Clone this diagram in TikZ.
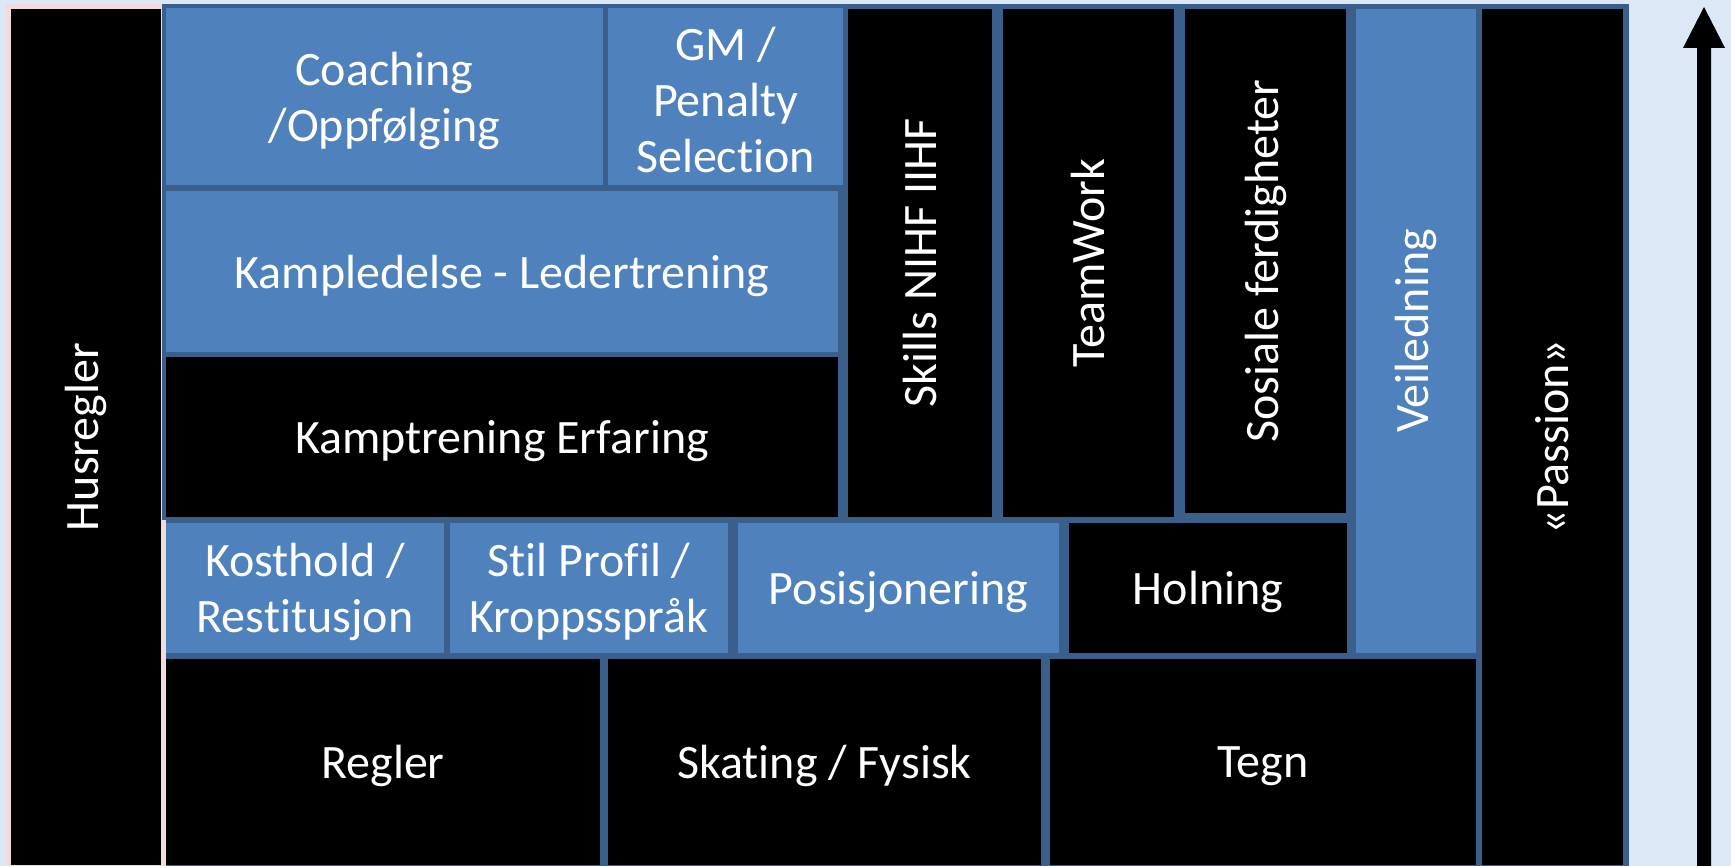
\documentclass[tikz,border=0pt]{standalone}
\usepackage{fontspec}
\setmainfont[Ligatures=NoCommon]{Carlito}
\usetikzlibrary{fit}
\definecolor{bgblue}{HTML}{DCE8F5}
\definecolor{boxblue}{HTML}{4F81BD}
\definecolor{gapblue}{HTML}{3A5F8B}
\definecolor{pinkedge}{HTML}{F2DCDB}
\tikzset{
  blk/.style={inner sep=0pt, outer sep=0pt},
  bluebox/.style={blk, fill=boxblue},
  blackbox/.style={blk, fill=black},
  basetext/.style={text=white, inner sep=0pt, align=center, font=\fontsize{24}{28}\selectfont},
  htext/.style={basetext, yshift=-2pt},
  vtext/.style={basetext, rotate=90}
}
\begin{document}
\begin{tikzpicture}[x=0.5pt,y=-0.5pt]
\useasboundingbox (0,0) rectangle (1731,866);
\fill[bgblue] (0,0) rectangle (1731,866);
% Husregler column
\fill[pinkedge] (6,4) rectangle (166,866);
\node[blackbox, fit={(11,9) (161,865)}] (hus) {};
\node[vtext] at (hus.center) {Husregler};
% dark blue frame behind the blocks
\fill[gapblue] (162,4) rectangle (1629,520);
\fill[gapblue] (166,520) rectangle (1629,866);
% upper blocks
\node[bluebox, fit={(166,8) (603,185)}] (coach) {};
\node[htext] at (coach.center) {Coaching\\/Oppfølging};
\node[bluebox, fit={(608,8) (843,185)}] (gm) {};
\node[htext] at (gm.center) {GM /\\Penalty\\Selection};
\node[bluebox, fit={(166,191) (838,352)}] (kled) {};
\node[htext] at (kled.center) {Kampledelse - Ledertrening};
\node[blackbox, fit={(166,357) (838,517)}] (ktren) {};
\node[htext] at (ktren.center) {Kamptrening Erfaring};
\node[blackbox, fit={(848,9) (992,517)}] (skills) {};
\node[vtext] at (skills.center) {Skills NIHF IIHF};
\node[blackbox, fit={(1003,9) (1174,517)}] (team) {};
\node[vtext] at (team.center) {TeamWork};
\node[blackbox, fit={(1185,9) (1346,513)}] (sos) {};
\node[vtext] at (sos.center) {Sosiale ferdigheter};
\node[bluebox, fit={(1356,9) (1476,653)}] (veil) {};
\node[vtext] at (veil.center) {Veiledning};
\node[blackbox, fit={(1482,9) (1623,865)}] (pass) {};
\node[vtext] at (pass.center) {«Passion»};
% middle row
\node[bluebox, fit={(166,523) (444,653)}] (kost) {};
\node[htext] at (kost.center) {Kosthold /\\Restitusjon};
\node[bluebox, fit={(450,523) (728,653)}] (stil) {};
\node[htext] at (stil.center) {Stil Profil /\\Kroppsspråk};
\node[bluebox, fit={(738,523) (1059,653)}] (posi) {};
\node[htext] at (posi.center) {Posisjonering};
\node[blackbox, fit={(1069,523) (1347,653)}] (holn) {};
\node[htext] at (holn.center) {Holning};
% bottom row
\node[blackbox, fit={(166,659) (600,865)}] (regler) {};
\node[htext] at (regler.center) {Regler};
\node[blackbox, fit={(608,659) (1041,865)}] (skat) {};
\node[htext] at (skat.center) {Skating / Fysisk};
\node[blackbox, fit={(1050,659) (1476,865)}] (tegn) {};
\node[htext] at (tegn.center) {Tegn};
% upward arrow
\coordinate (atip) at (1704,7);
\fill[black] (1697,866) -- (1697,48) -- (1683,48) -- (atip) -- (1725,48) -- (1711,48) -- (1711,866) -- cycle;
\end{tikzpicture}
\end{document}
